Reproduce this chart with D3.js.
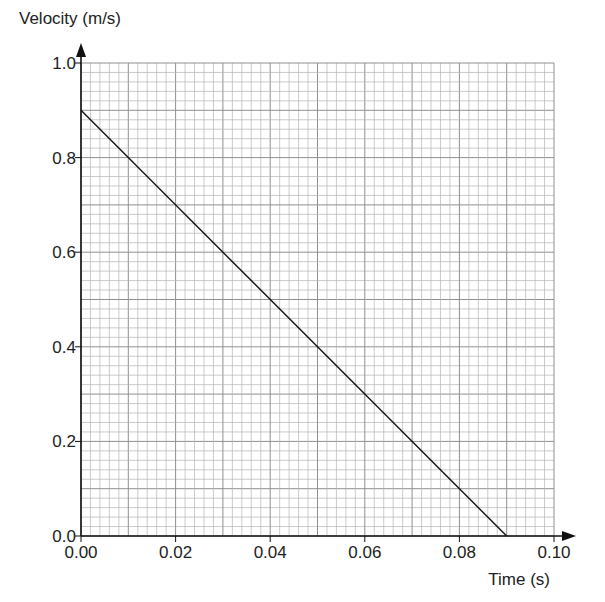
<!DOCTYPE html>
<html><head><meta charset="utf-8">
<script src="https://cdn.jsdelivr.net/npm/d3@7"></script>
<style>body{margin:0;background:#fff}text{font-family:"Liberation Sans",Arial,sans-serif;fill:#222}</style>
</head><body><svg id="c" width="605" height="602"></svg>
<script>
const xTicks = [0, 0.02, 0.04, 0.06, 0.08, 0.10];
const yTicks = [0, 0.2, 0.4, 0.6, 0.8, 1.0];
const lineTime = [0, 0.09];
const lineVel = [0.9, 0];

const svg = d3.select('#c');
const x = d3.scaleLinear().domain([0, 0.1]).range([81, 554]);
const y = d3.scaleLinear().domain([0, 1]).range([536, 63]);

// grid: 50 minor cells per axis, darker every 5
const g = svg.append('g');
d3.range(51).forEach(i => {
  const major = i % 5 === 0;
  const col = major ? '#909090' : '#b4b4b4', w = major ? 1 : 0.7;
  g.append('line').attr('x1', x(i * 0.002)).attr('x2', x(i * 0.002))
    .attr('y1', y(0)).attr('y2', y(1)).attr('stroke', col).attr('stroke-width', w);
  g.append('line').attr('y1', y(i * 0.02)).attr('y2', y(i * 0.02))
    .attr('x1', x(0)).attr('x2', x(0.1)).attr('stroke', col).attr('stroke-width', w);
});

// data line
svg.append('path').datum(lineTime.map((t, i) => [t, lineVel[i]]))
  .attr('d', d3.line().x(d => x(d[0])).y(d => y(d[1])))
  .attr('stroke', '#111').attr('stroke-width', 1.4).attr('fill', 'none');

// axes with arrows
svg.append('line').attr('x1', x(0)).attr('x2', 566).attr('y1', y(0)).attr('y2', y(0)).attr('stroke', '#111').attr('stroke-width', 1.6);
svg.append('line').attr('x1', x(0)).attr('x2', x(0)).attr('y1', y(0)).attr('y2', 54).attr('stroke', '#111').attr('stroke-width', 1.6);
svg.append('path').attr('d', `M576,${y(0)} L562,${y(0)-5} L562,${y(0)+5}Z`).attr('fill', '#111');
svg.append('path').attr('d', `M${x(0)},43 L${x(0)-5},57 L${x(0)+5},57Z`).attr('fill', '#111');

xTicks.forEach(t => {
  svg.append('line').attr('x1', x(t)).attr('x2', x(t)).attr('y1', y(0)).attr('y2', y(0) + 6).attr('stroke', '#111');
  svg.append('text').attr('x', x(t)).attr('y', y(0) + 22).attr('text-anchor', 'middle').attr('font-size', 17).text(t.toFixed(2));
});
yTicks.forEach(v => {
  svg.append('line').attr('x1', x(0) - 6).attr('x2', x(0)).attr('y1', y(v)).attr('y2', y(v)).attr('stroke', '#111');
  svg.append('text').attr('x', x(0) - 5).attr('y', y(v) + 6).attr('text-anchor', 'end').attr('font-size', 17).text(v.toFixed(1));
});
svg.append('text').attr('x', 19).attr('y', 24).attr('font-size', 17).text('Velocity (m/s)');
svg.append('text').attr('x', 550).attr('y', 585).attr('text-anchor', 'end').attr('font-size', 17).text('Time (s)');
</script></body></html>
